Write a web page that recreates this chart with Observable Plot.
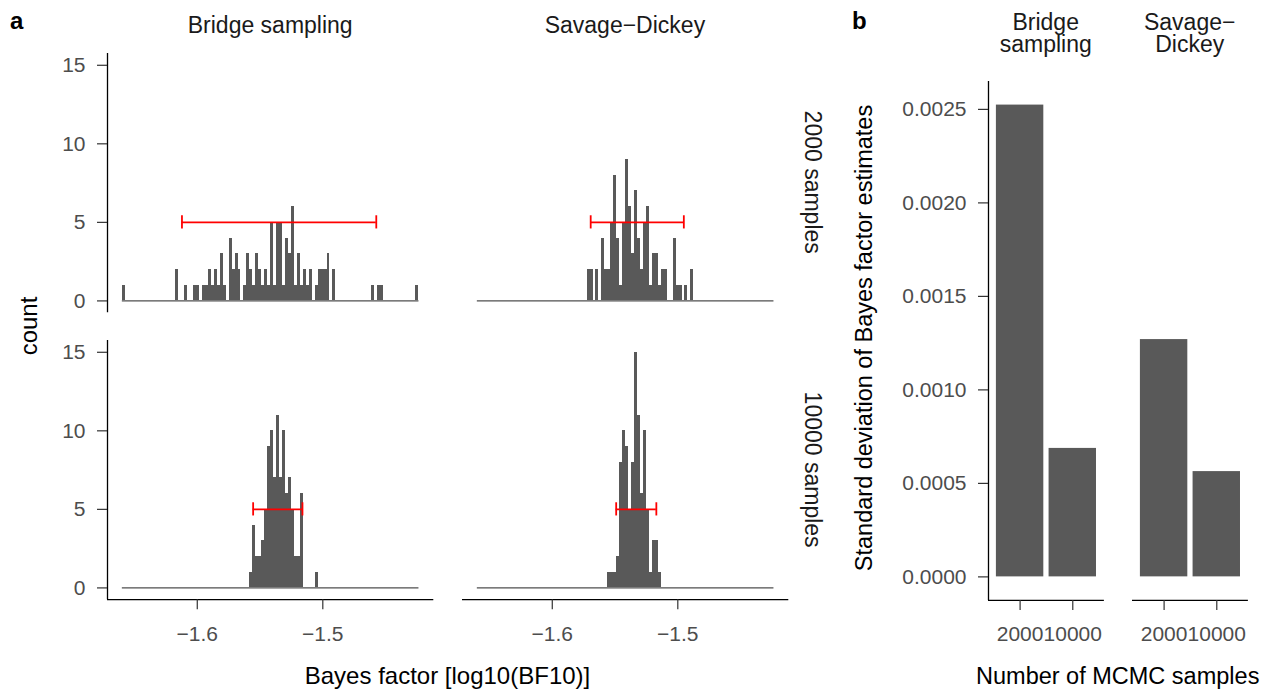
<!DOCTYPE html>
<html><head><meta charset="utf-8">
<script src="https://cdn.jsdelivr.net/npm/d3@7"></script>
<script src="https://cdn.jsdelivr.net/npm/@observablehq/plot@0.6"></script>
<style>
body{margin:0;background:#fff;}
#root{position:relative;width:1269px;height:689px;overflow:hidden;background:#fff;}
</style></head><body><div id="root"></div>
<script>
// ---------------- data ----------------
const methods = ["Bridge sampling", "Savage\u2212Dickey"];
const sampleSizes = ["2000", "10000"];
const rowLabels = ["2000 samples", "10000 samples"];

// histogram bins (100 bins shared by all panels)
const binStart = -1.6597;
const binWidth = 0.002363;

// counts per bin, index 0..99
const bridge2000Counts = [
  1,0,0,0,0,0,0,0,0,0,
  0,0,0,0,0,0,0,0,2,0,
  0,1,0,0,1,1,0,1,1,2,
  1,2,1,3,1,0,4,2,3,2,
  0,1,3,2,1,3,2,1,2,1,
  5,1,5,5,1,4,3,6,1,3,
  1,2,1,2,0,1,2,2,2,3,
  0,2,0,0,0,0,0,0,0,0,
  0,0,0,0,1,0,1,1,0,0,
  0,0,0,0,0,0,0,0,0,1];
const savage2000Counts = [
  0,0,0,0,0,0,0,0,0,0,
  0,0,0,0,0,0,0,0,0,0,
  0,0,0,0,0,0,0,0,0,0,
  0,0,0,0,0,0,0,2,2,0,
  2,0,4,2,2,5,8,4,1,5,
  9,6,3,7,4,2,5,6,1,3,
  3,1,2,2,0,0,4,1,1,0,
  1,0,2,0,0,0,0,0,0,0,
  0,0,0,0,0,0,0,0,0,0,
  0,0,0,0,0,0,0,0,0,0];
const bridge10000Counts = [
  0,0,0,0,0,0,0,0,0,0,
  0,0,0,0,0,0,0,0,0,0,
  0,0,0,0,0,0,0,0,0,0,
  0,0,0,0,0,0,0,0,0,0,
  0,0,0,1,4,2,2,3,5,9,
  10,7,11,7,10,6,7,5,2,2,
  6,0,0,0,0,1,0,0,0,0,
  0,0,0,0,0,0,0,0,0,0,
  0,0,0,0,0,0,0,0,0,0,
  0,0,0,0,0,0,0,0,0,0];
const savage10000Counts = [
  0,0,0,0,0,0,0,0,0,0,
  0,0,0,0,0,0,0,0,0,0,
  0,0,0,0,0,0,0,0,0,0,
  0,0,0,0,0,0,0,0,0,0,
  0,0,0,0,1,1,1,2,8,10,
  9,5,8,15,11,6,10,5,1,3,
  3,1,0,0,0,0,0,0,0,0,
  0,0,0,0,0,0,0,0,0,0,
  0,0,0,0,0,0,0,0,0,0,
  0,0,0,0,0,0,0,0,0,0];

// error bars (interval of the estimates), drawn at count 5
const errLow  = [-1.6122, -1.5694, -1.5555, -1.5491]; // bridge2000, savage2000, bridge10000, savage10000
const errHigh = [-1.4574, -1.4952, -1.5162, -1.5171];
const errorBarCount = 5;

// panel b: SD of Bayes factor estimates
const sdBridge = [0.002523, 0.000687];   // 2000, 10000
const sdSavage = [0.001269, 0.000563];

// ticks
const countTicks = [0, 5, 10, 15];
const bfTicks = [-1.6, -1.5];
const sdTicks = [0, 0.0005, 0.0010, 0.0015, 0.0020, 0.0025];

// ---------------- styles ----------------
const FONT = '"Liberation Sans", Arial, Helvetica, sans-serif';
const TICK_FS = 21;
const barColor = "#595959";
const tickFill = "#4d4d4d";
const tickStroke = "#333333";
const root = document.getElementById("root");

const nBins = bridge2000Counts.length;
const binEnd = binStart + nBins * binWidth;
const xSpan = binEnd - binStart;
const xDomain = [binStart - 0.05 * xSpan, binEnd + 0.05 * xSpan];
const maxCount = d3.max([bridge2000Counts, savage2000Counts, bridge10000Counts, savage10000Counts].flat());
const yDomain = [-0.05 * maxCount, maxCount * 1.05];

function place(svg, left, top) {
  svg.style.position = "absolute";
  svg.style.left = left + "px";
  svg.style.top = top + "px";
  svg.style.background = "transparent";
  svg.style.maxWidth = "none";
  root.append(svg);
}

function histPanel(counts, k, left, top, showY, showX) {
  const W = 326.3, H = 259.2;
  const mL = showY ? 80 : 2, mR = 3, mT = 4, mB = showX ? 60 : 4;
  const bins = counts.map((c, i) => ({x1: binStart + i * binWidth, x2: binStart + (i + 1) * binWidth, count: c}))
                     .filter(d => d.count > 0);
  const err = [{lo: errLow[k], hi: errHigh[k], y: errorBarCount}];
  const capHalf = 0.42;
  const marks = [
    Plot.ruleY([0], {x1: binStart, x2: binEnd, stroke: "#4f4f4f", strokeWidth: 1.2}),
    Plot.rectY(bins, {x1: "x1", x2: "x2", y: "count", fill: barColor, inset: 0, shapeRendering: "crispEdges"}),
    Plot.ruleY(err, {y: "y", x1: "lo", x2: "hi", stroke: "#ff0000", strokeWidth: 1.8}),
    Plot.ruleX(err.flatMap(d => [d.lo, d.hi]), {y1: errorBarCount - capHalf, y2: errorBarCount + capHalf, stroke: "#ff0000", strokeWidth: 1.8})
  ];
  if (showY) {
    marks.push(Plot.ruleX([xDomain[0]], {stroke: "black", strokeWidth: 1.3}));
    marks.push(Plot.axisY({ticks: countTicks, tickFormat: d3.format("d"), tickSize: 10, tickPadding: 12,
      stroke: tickStroke, fill: tickFill, strokeWidth: 1.2, fontSize: TICK_FS, label: null}));
  }
  if (showX) {
    marks.push(Plot.ruleY([yDomain[0]], {stroke: "black", strokeWidth: 1.3}));
    marks.push(Plot.axisX({ticks: bfTicks, tickFormat: d3.format(".1f"), tickSize: 10, tickPadding: 16,
      stroke: tickStroke, fill: tickFill, strokeWidth: 1.2, fontSize: TICK_FS, label: null}));
  }
  const p = Plot.plot({
    width: W + mL + mR, height: H + mT + mB,
    marginLeft: mL, marginRight: mR, marginTop: mT, marginBottom: mB,
    x: {domain: xDomain, axis: null},
    y: {domain: yDomain, axis: null},
    style: {fontFamily: FONT, fontSize: TICK_FS + "px", color: tickFill, background: "transparent"},
    marks
  });
  place(p, left - mL, top - mT);
}

histPanel(bridge2000Counts, 0, 107, 52.6, true, false);
histPanel(savage2000Counts, 1, 461.7, 52.6, false, false);
histPanel(bridge10000Counts, 2, 107, 340, true, true);
histPanel(savage10000Counts, 3, 461.7, 340, false, true);

// ---------------- panel b ----------------
const sdMax = d3.max([...sdBridge, ...sdSavage]);
const sdDomain = [-0.05 * sdMax, sdMax * 1.05];
function barPanel(values, left, showY) {
  const W = 115.9, H = 519, top = 80.6;
  const mL = showY ? 95 : 2, mR = 3, mT = 4, mB = 60;
  const bars = values.map((v, i) => ({pos: i + 1, sd: v, label: sampleSizes[i]}));
  const marks = [
    Plot.rectY(bars, {x1: d => d.pos - 0.45, x2: d => d.pos + 0.45, y: "sd", fill: barColor, inset: 0}),
    Plot.ruleY([sdDomain[0]], {stroke: "black", strokeWidth: 1.3}),
    Plot.axisX({ticks: bars.map(d => d.pos), tickFormat: i => sampleSizes[i - 1], tickSize: 10, tickPadding: 16,
      stroke: tickStroke, fill: tickFill, strokeWidth: 1.2, fontSize: TICK_FS, label: null})
  ];
  if (showY) {
    marks.push(Plot.ruleX([0.4], {stroke: "black", strokeWidth: 1.3}));
    marks.push(Plot.axisY({ticks: sdTicks, tickFormat: d3.format(".4f"), tickSize: 10, tickPadding: 12,
      stroke: tickStroke, fill: tickFill, strokeWidth: 1.2, fontSize: TICK_FS, label: null}));
  }
  const p = Plot.plot({
    width: W + mL + mR, height: H + mT + mB,
    marginLeft: mL, marginRight: mR, marginTop: mT, marginBottom: mB,
    x: {domain: [0.4, 2.6], axis: null},
    y: {domain: sdDomain, axis: null},
    style: {fontFamily: FONT, fontSize: TICK_FS + "px", color: tickFill, background: "transparent"},
    marks
  });
  place(p, left - mL, top - mT);
}
barPanel(sdBridge, 987.7, true);
barPanel(sdSavage, 1131.7, false);

// ---------------- text overlay ----------------
const svg = d3.select(root).append("svg")
  .attr("width", 1269).attr("height", 689)
  .style("position", "absolute").style("left", "0px").style("top", "0px")
  .style("pointer-events", "none").style("font-family", FONT);
function addText(t, x, y, o = {}) {
  const {size = 23, weight = "normal", anchor = "middle", rotate = 0, fill = "#1a1a1a"} = o;
  svg.append("text").text(t)
    .attr("transform", `translate(${x},${y}) rotate(${rotate})`)
    .attr("text-anchor", anchor).attr("font-size", size).attr("font-weight", weight).attr("fill", fill);
}
addText("a", 10, 29, {size: 24, weight: "bold", anchor: "start", fill: "#000"});
addText("b", 852, 29, {size: 24, weight: "bold", anchor: "start", fill: "#000"});
addText(methods[0], 270.2, 33);
addText(methods[1], 624.9, 33);
addText(rowLabels[0], 805, 182.2, {rotate: 90});
addText(rowLabels[1], 805, 469.6, {rotate: 90});
addText("count", 37, 326, {rotate: -90, fill: "#000", size: 24});
addText("Bayes factor [log10(BF10)]", 447.5, 684, {fill: "#000", size: 24});
addText("Standard deviation of Bayes factor estimates", 872, 338, {rotate: -90, fill: "#000", size: 23.5});
addText("Number of MCMC samples", 1117.7, 684, {fill: "#000", size: 23.5});
addText("Bridge", 1045.7, 30);
addText("sampling", 1045.7, 52);
addText("Savage\u2212", 1189.7, 30);
addText("Dickey", 1189.7, 52);
</script>
</body></html>
